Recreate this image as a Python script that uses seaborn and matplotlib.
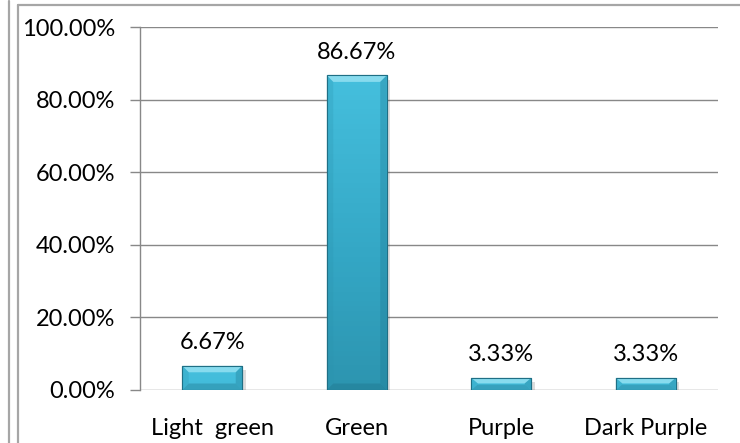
import numpy as np
import pandas as pd
import matplotlib
matplotlib.use("Agg")
import matplotlib.pyplot as plt
import seaborn as sns
from matplotlib.patches import Polygon, Rectangle
from matplotlib.lines import Line2D
import matplotlib.patheffects as pe
from matplotlib.colors import LinearSegmentedColormap

categories = ["Light  green", "Green", "Purple", "Dark Purple"]
shares = [0.0667, 0.8667, 0.0333, 0.0333]
value_labels = ["6.67%", "86.67%", "3.33%", "3.33%"]
y_ticks = [0.0, 0.2, 0.4, 0.6, 0.8, 1.0]

sns.set_theme(style="white")
plt.rcParams["font.family"] = ["Lato", "DejaVu Sans"]

W, H = 740, 443
fig = plt.figure(figsize=(W / 100, H / 100), dpi=100)
fig.patch.set_facecolor("white")

# outer chart frame and the edge of the neighbouring frame
frame_col = "#A6A6A6"
fig.add_artist(Line2D([8.5 / W, 8.5 / W], [0, 1 - 1 / H], transform=fig.transFigure,
                      color=frame_col, lw=1.6))
fig.add_artist(Line2D([18 / W, 18 / W], [0, 1 - 4.5 / H], transform=fig.transFigure,
                      color=frame_col, lw=1.6))
fig.add_artist(Line2D([18 / W, 1], [1 - 4.5 / H, 1 - 4.5 / H], transform=fig.transFigure,
                      color=frame_col, lw=1.6))

ax = fig.add_axes([140 / W, 53 / H, 578 / W, 363 / H])
df = pd.DataFrame({"category": categories, "share": shares})
sns.barplot(data=df, x="category", y="share", ax=ax, color="#3BB3D3",
            width=0.415, saturation=1, edgecolor="#1F6F85", linewidth=0.8)

ax.set_xlim(-0.5, len(categories) - 0.5)
ax.set_ylim(0, 1.0)
ax.set_yticks(y_ticks)
ax.set_yticklabels([f"{v * 100:.2f}%" for v in y_ticks])
ax.set_xlabel("")
ax.set_ylabel("")
ax.grid(axis="y", color="#888888", lw=1.0)
ax.set_axisbelow(True)
for s in ["top", "right", "bottom"]:
    ax.spines[s].set_visible(False)
ax.spines["left"].set_color("#888888")
ax.spines["left"].set_linewidth(1.0)
ax.tick_params(axis="y", length=7, width=1.0, color="#888888", labelsize=17,
               pad=11, left=True, labelcolor="black")
ax.tick_params(axis="x", length=0, labelsize=17, pad=20, labelcolor="black")

grad = LinearSegmentedColormap.from_list("bar", ["#2A8EA8", "#34A7C5", "#45BFDD"])

for patch, lab in zip(ax.patches, value_labels):
    x0, y0 = patch.get_x(), patch.get_y()
    w, h = patch.get_width(), patch.get_height()
    patch.set_path_effects([pe.SimplePatchShadow(offset=(2.5, -3), alpha=0.2,
                                                 shadow_rgbFace="#555555"),
                            pe.Normal()])
    # vertical shading inside the bar
    g = np.linspace(1 - h, 1, 64).reshape(-1, 1)
    im = ax.imshow(g, cmap=grad, vmin=0, vmax=1, aspect="auto",
                   extent=(x0, x0 + w, y0, y0 + h), origin="lower", zorder=2.1)
    im.set_clip_path(patch)
    # bevelled edges (size in data units derived from pixels)
    bx = 6.5 / (578 / 4)
    by = min(6.5 / 363, h / 2.2)
    xa, xb, ya, yb = x0, x0 + w, y0, y0 + h
    facets = [
        ([(xa, yb), (xb, yb), (xb - bx, yb - by), (xa + bx, yb - by)], "#A5E8F6", 0.7),
        ([(xa, ya), (xb, ya), (xb - bx, ya + by), (xa + bx, ya + by)], "#1D6F86", 0.35),
        ([(xa, ya), (xa, yb), (xa + bx, yb - by), (xa + bx, ya + by)], "#2B93AE", 0.25),
        ([(xb, ya), (xb, yb), (xb - bx, yb - by), (xb - bx, ya + by)], "#1F7A93", 0.35),
    ]
    for pts, col, a in facets:
        ax.add_patch(Polygon(pts, closed=True, facecolor=col, edgecolor="none",
                             alpha=a, zorder=2.2))
    ax.add_patch(Rectangle((x0, y0), w, h, fill=False, edgecolor="#1F6F85",
                           lw=0.8, zorder=2.3))
    ax.annotate(lab, (x0 + w / 2, y0 + h), xytext=(0, 9), textcoords="offset points",
                ha="center", va="bottom", fontsize=17, color="black")

fig.savefig("out.png", dpi=100, facecolor="white")
